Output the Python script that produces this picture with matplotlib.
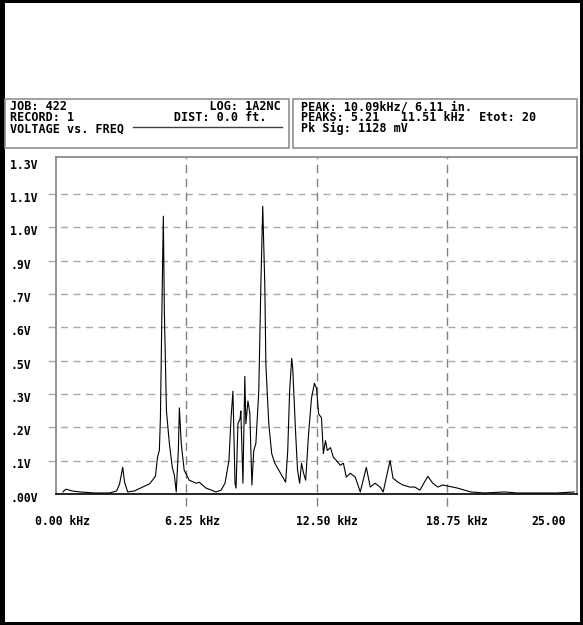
import matplotlib
matplotlib.use("Agg")
import matplotlib.pyplot as plt
from matplotlib.patches import Rectangle
from matplotlib.lines import Line2D
from matplotlib.transforms import ScaledTranslation

# spectrum (kHz, volts)
freq_khz = [0.33, 0.48, 0.76, 1.15, 1.86, 2.58, 2.91, 3.05, 3.20, 3.29, 3.44, 3.77,
            4.15, 4.48, 4.63, 4.77, 4.87, 4.96, 5.01, 5.10, 5.15, 5.20, 5.30, 5.44,
            5.58, 5.68, 5.77, 5.87, 5.92, 6.01, 6.15, 6.39, 6.73, 6.87, 7.20, 7.68,
            7.92, 8.11, 8.30, 8.40, 8.49, 8.59, 8.64, 8.73, 8.83, 8.87, 8.97, 9.06,
            9.11, 9.21, 9.30, 9.40, 9.49, 9.59, 9.73, 9.83, 9.92, 10.02, 10.07, 10.21,
            10.35, 10.50, 10.69, 10.83, 11.02, 11.12, 11.21, 11.31, 11.36, 11.50, 11.59,
            11.69, 11.78, 11.88, 11.98, 12.12, 12.26, 12.40, 12.50, 12.60, 12.74, 12.83,
            12.93, 13.02, 13.17, 13.31, 13.45, 13.64, 13.79, 13.93, 14.12, 14.36, 14.60,
            14.89, 15.08, 15.31, 15.55, 15.70, 16.03, 16.17, 16.41, 16.65, 16.98, 17.22,
            17.46, 17.84, 18.08, 18.32, 18.56, 18.80, 19.27, 19.90, 20.56, 21.52, 22.14,
            23.09, 24.05, 24.86]
volts = [0.008, 0.019, 0.012, 0.008, 0.004, 0.004, 0.012, 0.039, 0.104, 0.046, 0.008, 0.012,
         0.027, 0.039, 0.054, 0.069, 0.143, 0.170, 0.297, 0.814, 1.084, 0.710, 0.324, 0.197,
         0.104, 0.073, 0.008, 0.170, 0.336, 0.197, 0.093, 0.054, 0.042, 0.046, 0.023, 0.008,
         0.015, 0.042, 0.131, 0.297, 0.401, 0.042, 0.023, 0.274, 0.293, 0.324, 0.042, 0.459,
         0.274, 0.363, 0.316, 0.035, 0.170, 0.197, 0.401, 0.814, 1.123, 0.814, 0.505, 0.274,
         0.158, 0.120, 0.093, 0.073, 0.046, 0.170, 0.401, 0.529, 0.490, 0.235, 0.093,
         0.042, 0.120, 0.081, 0.054, 0.235, 0.374, 0.432, 0.413, 0.313, 0.297, 0.158,
         0.208, 0.170, 0.181, 0.143, 0.131, 0.112, 0.120, 0.066, 0.081, 0.066, 0.008,
         0.104, 0.027, 0.042, 0.027, 0.008, 0.131, 0.062, 0.046, 0.035, 0.027, 0.027,
         0.015, 0.069, 0.042, 0.027, 0.035, 0.031, 0.023, 0.008, 0.004, 0.008, 0.004,
         0.004, 0.004, 0.008]

y_ticks = [0.0, 0.13, 0.26, 0.39, 0.52, 0.65, 0.78, 0.91, 1.04, 1.17, 1.30]
y_labels = ['.00V', '.1V', '.2V', '.3V', '.5V', '.6V', '.7V', '.9V', '1.0V', '1.1V', '1.3V']
x_ticks = [0.0, 6.25, 12.5, 18.75, 25.0]
x_labels = ['0.00 kHz', '6.25 kHz', '12.50 kHz', '18.75 kHz', '25.00']

header_left = ['JOB: 422'.ljust(28) + 'LOG: 1A2NC',
               'RECORD: 1'.ljust(23) + 'DIST: 0.0 ft.',
               'VOLTAGE vs. FREQ']
header_right = ['PEAK: 10.09kHz/ 6.11 in.',
                'PEAKS: 5.21   11.51 kHz  Etot: 20',
                'Pk Sig: 1128 mV']

W, H = 583, 625
font = dict(family='DejaVu Sans Mono', weight='bold', color='black')


def fx(px):
    return px / W


def fy(py):
    return 1 - py / H


fig = plt.figure(figsize=(W / 100, H / 100), dpi=100)
fig.patch.set_facecolor('white')

# outer black border
fig.add_artist(Rectangle((0, 0), fx(5), 1, transform=fig.transFigure, color='black', lw=0))
fig.add_artist(Rectangle((0, fy(3)), 1, 3 / H, transform=fig.transFigure, color='black', lw=0))
fig.add_artist(Rectangle((fx(580), 0), 3 / W, 1, transform=fig.transFigure, color='black', lw=0))
fig.add_artist(Rectangle((0, 0), 1, 3 / H, transform=fig.transFigure, color='black', lw=0))

# header boxes
for x0, x1 in [(5, 289), (293, 577)]:
    fig.add_artist(Rectangle((fx(x0), fy(148)), fx(x1) - fx(x0), (148 - 99) / H,
                             transform=fig.transFigure, fill=False, ec='#909090', lw=1.2))

fig.text(fx(10), fy(100), '\n'.join(header_left), fontsize=8.5, va='top', ha='left',
         linespacing=0.82, **font)
fig.text(fx(301), fy(100), '\n'.join(header_right), fontsize=8.5, va='top', ha='left',
         linespacing=0.82, **font)
fig.add_artist(Line2D([fx(133), fx(282)], [fy(127), fy(127)], transform=fig.transFigure,
                      color='#404040', lw=1))

# plot area
ax = fig.add_axes([fx(56), 1 - 494 / H, (577 - 56) / W, (494 - 157) / H])
ax.set_xlim(0, 24.86)
ax.set_ylim(0, 1.315)

for yv in y_ticks[1:-1]:
    ax.axhline(yv, xmin=-0.016, xmax=1, color='#a8a8a8', lw=1, ls=(0, (5, 4)),
               clip_on=False, zorder=1)
for xv in x_ticks[1:-1]:
    ax.axvline(xv, ymin=-0.035, ymax=1, color='#808080', lw=1, ls=(0, (6, 4)),
               clip_on=False, zorder=1)

ax.plot(freq_khz, volts, color='black', lw=0.8, zorder=3)

for side in ['left', 'top', 'right']:
    ax.spines[side].set_color('#808080')
    ax.spines[side].set_linewidth(1.2)
ax.spines['bottom'].set_color('black')
ax.spines['bottom'].set_linewidth(1.2)

ax.set_yticks(y_ticks)
ax.set_yticklabels(y_labels, ha='left', fontsize=8.3, **font)
ax.tick_params(axis='y', length=0, pad=33)
for lbl in ax.get_yticklabels():
    lbl.set_transform(lbl.get_transform() + ScaledTranslation(0, -2 / 72, fig.dpi_scale_trans))

ax.set_xticks(x_ticks)
ax.set_xticklabels(x_labels, ha='left', fontsize=8.3, **font)
ax.tick_params(axis='x', length=0, pad=15)
for i, lbl in enumerate(ax.get_xticklabels()):
    dx = -46 if i == len(x_labels) - 1 else -21
    lbl.set_transform(lbl.get_transform() + ScaledTranslation(dx / 100, 0, fig.dpi_scale_trans))

fig.savefig('out.png', dpi=100)
